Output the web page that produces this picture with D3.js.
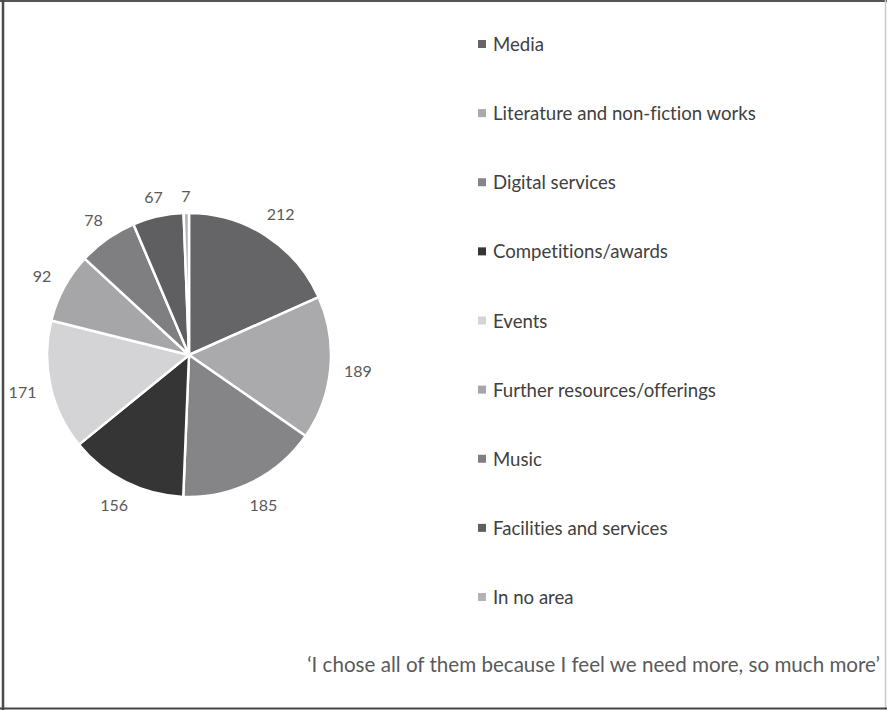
<!DOCTYPE html>
<html>
<head>
<meta charset="utf-8">
<script src="https://cdn.jsdelivr.net/npm/d3@7"></script>
<style>
  html, body { margin: 0; padding: 0; background: #fff; }
  svg { display: block; }
  text { font-family: Lato, "Open Sans", sans-serif; font-variant-ligatures: none; }
</style>
</head>
<body>
<svg id="chart" width="887" height="710"></svg>
<script>
// Areas of interest and number of responses
const categories = [
  "Media",
  "Literature and non-fiction works",
  "Digital services",
  "Competitions/awards",
  "Events",
  "Further resources/offerings",
  "Music",
  "Facilities and services",
  "In no area"
];
const counts = [212, 189, 185, 156, 171, 92, 78, 67, 7];
const shades = ["#656568", "#aaaaac", "#858588", "#353535", "#d4d4d6", "#a6a6a8", "#7f7f82", "#5f5f62", "#b3b3b5"];
const quote = "\u2018I chose all of them because I feel we need more, so much more\u2019";

const W = 887, H = 710;
const svg = d3.select("#chart");

// frame
svg.append("line").attr("x1", 0).attr("x2", W).attr("y1", 1).attr("y2", 1)
  .attr("stroke", "#555").attr("stroke-width", 2);
svg.append("line").attr("x1", 3).attr("x2", 3).attr("y1", 0).attr("y2", H)
  .attr("stroke", "#4a4a4a").attr("stroke-width", 2.5);
svg.append("line").attr("x1", W - 1.5).attr("x2", W - 1.5).attr("y1", 0).attr("y2", H)
  .attr("stroke", "#c8c8c8").attr("stroke-width", 1.5);
svg.append("line").attr("x1", 0).attr("x2", W).attr("y1", H - 1.5).attr("y2", H - 1.5)
  .attr("stroke", "#444").attr("stroke-width", 2);

// pie
const cx = 189, cy = 355, r = 142;
const color = d3.scaleOrdinal().domain(categories).range(shades);
const pie = d3.pie().sort(null).value(d => d.v);
const data = categories.map((c, i) => ({ c, v: counts[i] }));
const arcs = pie(data);
const arc = d3.arc().innerRadius(0).outerRadius(r);

const g = svg.append("g").attr("transform", `translate(${cx},${cy})`);
g.selectAll("path.slice").data(arcs).join("path")
  .attr("class", "slice")
  .attr("d", arc)
  .attr("fill", d => color(d.data.c))
  .attr("stroke", "#fff")
  .attr("stroke-width", 2.5)
  .attr("stroke-linejoin", "round");

// value labels just outside each slice
const lbl = g.selectAll("text.val").data(arcs).join("text")
  .attr("class", "val")
  .attr("text-anchor", "middle")
  .attr("dominant-baseline", "central")
  .attr("font-size", 16)
  .attr("fill", "#595959")
  .text(d => d.data.v);
lbl.each(function(d) {
  const a = (d.startAngle + d.endAngle) / 2;
  const bb = this.getBBox();
  const s = Math.sin(a), c = -Math.cos(a);
  const dist = r + 8 + Math.abs(s) * (bb.width / 2 + 5) + Math.abs(c) * bb.height / 2;
  d3.select(this).attr("x", s * dist).attr("y", c * dist);
});

// legend
const ly = d3.scalePoint().domain(categories).range([44, 597]);
const lg = svg.append("g").selectAll("g").data(categories).join("g")
  .attr("transform", d => `translate(478,${ly(d)})`);
lg.append("rect").attr("x", 0).attr("y", -4).attr("width", 8).attr("height", 8)
  .attr("fill", d => color(d));
lg.append("text").attr("x", 15).attr("y", 0)
  .attr("dominant-baseline", "central")
  .attr("font-size", 18.6)
  .attr("fill", "#404040")
  .text(d => d);

// quotation
svg.append("text")
  .attr("x", 880).attr("y", 664)
  .attr("text-anchor", "end")
  .attr("dominant-baseline", "central")
  .attr("font-size", 20.6)
  .attr("fill", "#5a5a5a")
  .text(quote);
</script>
</body>
</html>
